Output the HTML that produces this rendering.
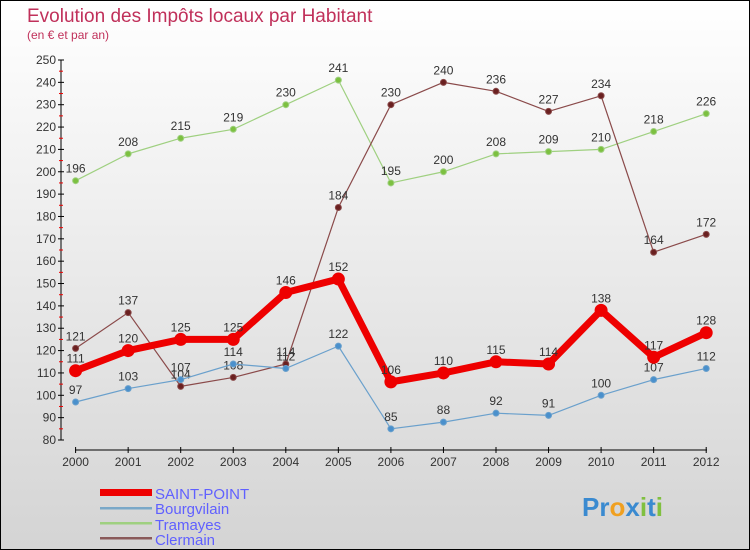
<!DOCTYPE html>
<html><head><meta charset="utf-8"><style>
body{margin:0}
svg{display:block;font-family:"Liberation Sans",sans-serif}
</style></head><body>
<svg width="750" height="550" xmlns="http://www.w3.org/2000/svg">
<defs><linearGradient id="bg" x1="0" y1="0" x2="0" y2="1"><stop offset="0" stop-color="#ffffff"/><stop offset="1" stop-color="#d4d4d4"/></linearGradient></defs>
<rect x="0.5" y="0.5" width="749" height="549" fill="url(#bg)" stroke="#000"/>
<text x="27" y="22" font-size="19" fill="#c0305a">Evolution des Impôts locaux par Habitant</text>
<text x="27" y="39" font-size="12" fill="#c0305a">(en € et par an)</text>
<g id="axes"></g>
<g id="series"></g>
<g id="legend">
<rect x="100" y="489" width="52" height="7" fill="#e00"/>
<text x="155" y="499" font-size="15" fill="#6060ff">SAINT-POINT</text>
<rect x="100" y="507" width="52" height="2.5" fill="#7aa8c8"/>
<text x="155" y="514" font-size="15" fill="#6060ff">Bourgvilain</text>
<rect x="100" y="522" width="52" height="2.5" fill="#9fd080"/>
<text x="155" y="530" font-size="15" fill="#6060ff">Tramayes</text>
<rect x="100" y="537" width="52" height="2.5" fill="#8a5a5a"/>
<text x="155" y="545" font-size="15" fill="#6060ff">Clermain</text>
</g>
<text x="582" y="516" font-size="26" font-weight="bold"><tspan fill="#3a8ad0">Pr</tspan><tspan fill="#f0a020">o</tspan><tspan fill="#3a8ad0">x</tspan><tspan fill="#80c040">i</tspan><tspan fill="#3a8ad0">t</tspan><tspan fill="#80c040">i</tspan></text>
</svg>
<script>
const years=["2000","2001","2002","2003","2004","2005","2006","2007","2008","2009","2010","2011","2012"];
const yTicks=[80,90,100,110,120,130,140,150,160,170,180,190,200,210,220,230,240,250];
const saintPoint=[111,120,125,125,146,152,106,110,115,114,138,117,128];
const bourgvilain=[97,103,107,114,112,122,85,88,92,91,100,107,112];
const tramayes=[196,208,215,219,230,241,195,200,208,209,210,218,226];
const clermain=[121,137,104,108,114,184,230,240,236,227,234,164,172];
const NS="http://www.w3.org/2000/svg";
const X=i=>75.6+i*52.55;
const Y=v=>440-(v-80)*(380/170);
function mk(t,a,p){const e=document.createElementNS(NS,t);for(const k in a)e.setAttribute(k,a[k]);p.appendChild(e);return e;}
const ax=document.getElementById('axes');
let e=mk('line',{x1:61,y1:Y(250),x2:61,y2:Y(80),stroke:'#000'},ax);


e=mk('line',{x1:75,y1:450,x2:707,y2:450,stroke:'#000'},ax);


yTicks.forEach(v=>{
 mk('line',{x1:58,x2:64,y1:Y(v),y2:Y(v),stroke:'#000'},ax);
 if(v<250)mk('line',{x1:59,x2:63,y1:Y(v+5),y2:Y(v+5),stroke:'#e00'},ax);
 const t=mk('text',{x:56,y:Y(v)+4,'font-size':12,fill:'#333','text-anchor':'end'},ax);
 t.textContent=v;
 
 
});
years.forEach((y,i)=>{
 mk('line',{x1:X(i),x2:X(i),y1:447,y2:453,stroke:'#000'},ax);
 const t=mk('text',{x:X(i),y:466,'font-size':12,fill:'#333','text-anchor':'middle'},ax);
 t.textContent=y;
 
 
});
const sg=document.getElementById('series');
function draw(name,vals,color,w,r,dot,lab){
 const g=mk('g',{},sg);
 
 
 const l=mk('polyline',{points:vals.map((v,i)=>X(i)+','+Y(v)).join(' '),fill:'none',stroke:color,'stroke-width':w,'stroke-linejoin':'round'},g);
 
 
 vals.forEach((v,i)=>{
  const c=mk('circle',{cx:X(i),cy:Y(v),r:r,fill:dot,stroke:color,'stroke-width':1},g);
  
  
  const t=mk('text',{x:X(i),y:Y(v)-8,'font-size':12,fill:lab,'text-anchor':'middle'},g);
  t.textContent=v;
  
  
 });
}
draw('tramayes',tramayes,'#9fd080',1.2,3,'#7cc040','#333');
draw('clermain',clermain,'#8a4a4a',1.2,3,'#6a2020','#333');
draw('bourgvilain',bourgvilain,'#6aa0cc',1.2,3,'#4a90cc','#333');
draw('saint-point',saintPoint,'#ee0000',7,6,'#ee0000','#333');
</script>
</body></html>
